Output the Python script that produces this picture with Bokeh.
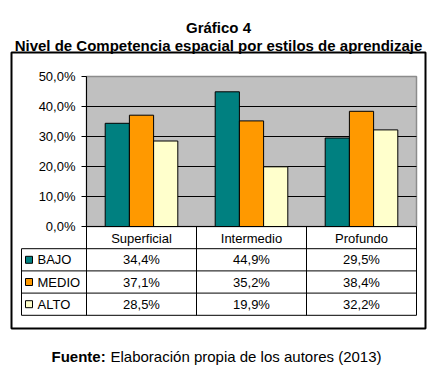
from bokeh.plotting import figure
from bokeh.models import Range1d, LinearAxis, FixedTicker
from bokeh.core.properties import value
from bokeh.embed import file_html
from bokeh.resources import INLINE

# ---------------- data ----------------
categories = ["Superficial", "Intermedio", "Profundo"]
series = ["BAJO", "MEDIO", "ALTO"]
bajo = [34.4, 44.9, 29.5]
medio = [37.1, 35.2, 38.4]
alto = [28.5, 19.9, 32.2]
colors = ["#008080", "#FF9900", "#FFFFCC"]
y_ticks = [0, 10, 20, 30, 40, 50]
y_tick_labels = ["0,0%", "10,0%", "20,0%", "30,0%", "40,0%", "50,0%"]
title_lines = ["Gráfico 4", "Nivel de Competencia espacial por estilos de aprendizaje"]
source_bold = "Fuente:"
source_text = "Elaboración propia de los autores (2013)"

values = [bajo, medio, alto]
FONT = value("Liberation Sans")

# ---------------- layout helpers (pixel -> data) ----------------
W, H = 448, 370
PX_X, PX_Y = 110.0, 3.0      # pixels per data unit
X0_IMG, Y0_IMG = 86, 226     # picture position of data origin


def X(px):
    return (px - X0_IMG) / PX_X


def Y(py):
    return (Y0_IMG - py) / PX_Y


p = figure(width=W, height=H,
           x_range=Range1d(X(0), X(W)), y_range=Range1d(Y(H), Y(0)),
           output_backend="svg", toolbar_location=None, min_border=0,
           x_axis_type=None, y_axis_type=None)
p.outline_line_color = None
p.background_fill_color = "white"
p.border_fill_color = "white"

ncat = len(categories)
ymax = y_ticks[-1]

# outer box
p.quad(left=[X(11)], right=[X(425)], top=[Y(52)], bottom=[Y(328)],
       fill_color=None, line_color="black", line_width=2)

# plot area
p.quad(left=[0], right=[ncat], bottom=[0], top=[ymax],
       fill_color="#C0C0C0", line_color="#8C8C8C", line_width=1.5)

# grid lines
gy = y_ticks[1:-1]
p.segment(x0=[0] * len(gy), x1=[ncat] * len(gy), y0=gy, y1=gy,
          line_color="black", line_width=1)

# bars
bw = 0.22
offsets = [-bw, 0, bw]
for vals, col, off in zip(values, colors, offsets):
    p.vbar(x=[i + 0.5 + off for i in range(ncat)], top=vals, bottom=0,
           width=bw, fill_color=col, line_color="black", line_width=1)

# table geometry
row_h = 7.4
row_edges = [0, -row_h, -2 * row_h, -3 * row_h, -4 * row_h]
leg_left = X(21)

# horizontal table lines
hx0 = [0] + [leg_left] * 4
hx1 = [ncat] * 5
p.segment(x0=hx0, x1=hx1, y0=row_edges, y1=row_edges,
          line_color="black", line_width=1)
# vertical lines
p.segment(x0=[0], x1=[0], y0=[ymax], y1=[row_edges[-1]], line_color="black", line_width=1)
p.segment(x0=[1, 2, 3], x1=[1, 2, 3], y0=[0, 0, 0], y1=[row_edges[-1]] * 3,
          line_color="black", line_width=1)
p.segment(x0=[leg_left], x1=[leg_left], y0=[row_edges[1]], y1=[row_edges[-1]],
          line_color="black", line_width=1)

# y axis
yax = LinearAxis(fixed_location=0, ticker=FixedTicker(ticks=y_ticks),
                 major_label_overrides={t: l for t, l in zip(y_ticks, y_tick_labels)})
yax.axis_line_color = None
yax.major_tick_out = 5
yax.major_tick_in = 0
yax.minor_tick_line_color = None
yax.major_tick_line_color = "black"
yax.major_label_standoff = 6
yax.major_label_text_font = "Liberation Sans"
yax.major_label_text_font_size = "13px"
yax.major_label_text_color = "black"
p.add_layout(yax, "left")

# header (categories) via x axis
xax = LinearAxis(fixed_location=0, ticker=FixedTicker(ticks=[i + 0.5 for i in range(ncat)]),
                 major_label_overrides={i + 0.5: c for i, c in enumerate(categories)})
xax.axis_line_color = None
xax.major_tick_line_color = None
xax.minor_tick_line_color = None
xax.major_tick_out = 0
xax.major_tick_in = 0
xax.major_label_standoff = 4
xax.major_label_text_font = "Liberation Sans"
xax.major_label_text_font_size = "13px"
xax.major_label_text_color = "black"
p.add_layout(xax, "below")

# table values
for r, (name, vals, col) in enumerate(zip(series, values, colors)):
    yc = (row_edges[r + 1] + row_edges[r + 2]) / 2
    p.text(x=[i + 0.5 for i in range(ncat)], y=[yc] * ncat,
           text=[f"{v:.1f}%".replace(".", ",") for v in vals],
           text_font=FONT, text_font_size="13px", text_align="center",
           text_baseline="middle", text_color="black")
    p.scatter(x=[X(28.5)], y=[yc], marker="square", size=7,
              fill_color=col, line_color="black", line_width=1)
    p.text(x=[X(37)], y=[yc], text=[name], text_font=FONT, text_font_size="13px",
           text_align="left", text_baseline="middle", text_color="black")

# titles
p.text(x=[X(218)] * 2, y=[Y(27), Y(45)], text=title_lines, text_font=FONT,
       text_font_size="15px", text_font_style="bold", text_align="center",
       text_baseline="alphabetic", text_color="black")

# source
p.text(x=[X(51)], y=[Y(356)], text=[source_bold], text_font=FONT,
       text_font_size="15px", text_font_style="bold", text_align="left",
       text_baseline="alphabetic", text_color="black")
p.text(x=[X(110)], y=[Y(356)], text=[source_text], text_font=FONT,
       text_font_size="15px", text_align="left",
       text_baseline="alphabetic", text_color="black")

open("out.html", "w").write(file_html(p, INLINE))
